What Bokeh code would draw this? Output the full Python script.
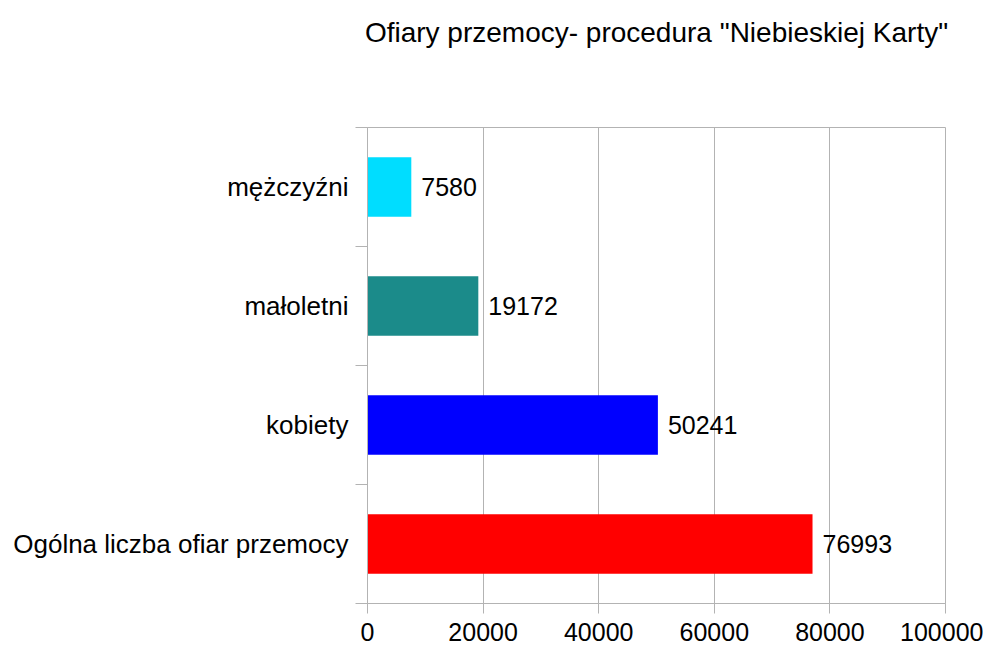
from bokeh.plotting import figure
from bokeh.models import (Range1d, FixedTicker, NumeralTickFormatter, LabelSet,
                          ColumnDataSource, LinearAxis, Title)
from bokeh.core.properties import value
from bokeh.embed import file_html
from bokeh.resources import INLINE

categories = ["Ogólna liczba ofiar przemocy", "kobiety", "małoletni", "mężczyźni"]
values = [76993, 50241, 19172, 7580]
colors = ["#ff0000", "#0000ff", "#1b8b8a", "#00ddff"]
x_ticks = [0, 20000, 40000, 60000, 80000, 100000]

FONT = "Liberation Sans"
GRAY = "#b3b3b3"

n = len(categories)
ys = [i + 0.5 for i in range(n)]
src = ColumnDataSource(dict(cat=categories, val=values, color=colors, y=ys,
                            lab=[str(v) for v in values]))

p = figure(width=983, height=650, output_backend="svg", toolbar_location=None,
           x_range=Range1d(0, 100000), y_range=Range1d(0, n),
           min_border_left=367, min_border_right=38, min_border_top=127,
           min_border_bottom=47, x_axis_location=None, y_axis_location=None)

# spacer between title and plot area
p.add_layout(Title(text=" ", text_font_size="28px", standoff=47), "above")

p.title.text = 'Ofiary przemocy- procedura "Niebieskiej Karty"'
p.title.text_font = FONT
p.title.text_font_size = "28px"
p.title.text_font_style = "normal"
p.title.text_color = "#000000"
p.title.align = "center"
p.title.standoff = 0

p.hbar(y="y", right="val", left=0, height=0.5, color="color", source=src, line_color=None)

xaxis = LinearAxis(ticker=FixedTicker(ticks=x_ticks), formatter=NumeralTickFormatter(format="0"))
xaxis.axis_line_color = GRAY
xaxis.major_tick_line_color = GRAY
xaxis.major_tick_out = 10
xaxis.major_tick_in = 0
xaxis.minor_tick_line_color = None
xaxis.major_label_text_font = FONT
xaxis.major_label_text_font_size = "25px"
xaxis.major_label_text_color = "#000000"
xaxis.major_label_standoff = 9
p.add_layout(xaxis, "below")

yaxis = LinearAxis(ticker=FixedTicker(ticks=ys, minor_ticks=list(range(n + 1))))
yaxis.axis_line_color = GRAY
yaxis.major_tick_line_color = None
yaxis.major_tick_out = 12
yaxis.major_tick_in = 0
yaxis.minor_tick_line_color = GRAY
yaxis.minor_tick_out = 12
yaxis.minor_tick_in = 0
yaxis.major_label_overrides = {y: c for y, c in zip(ys, categories)}
yaxis.major_label_text_font = FONT
yaxis.major_label_text_font_size = "26px"
yaxis.major_label_text_color = "#000000"
yaxis.major_label_standoff = 7
p.add_layout(yaxis, "left")

p.xgrid.ticker = FixedTicker(ticks=x_ticks)
p.xgrid.grid_line_color = GRAY
p.ygrid.grid_line_color = None
p.outline_line_color = GRAY

p.add_layout(LabelSet(x="val", y="y", text="lab", source=src, x_offset=10, text_align="left",
                      text_baseline="middle", text_font=value(FONT), text_font_size=value("25px"),
                      text_color="#000000"))

open("out.html", "w").write(file_html(p, INLINE))
